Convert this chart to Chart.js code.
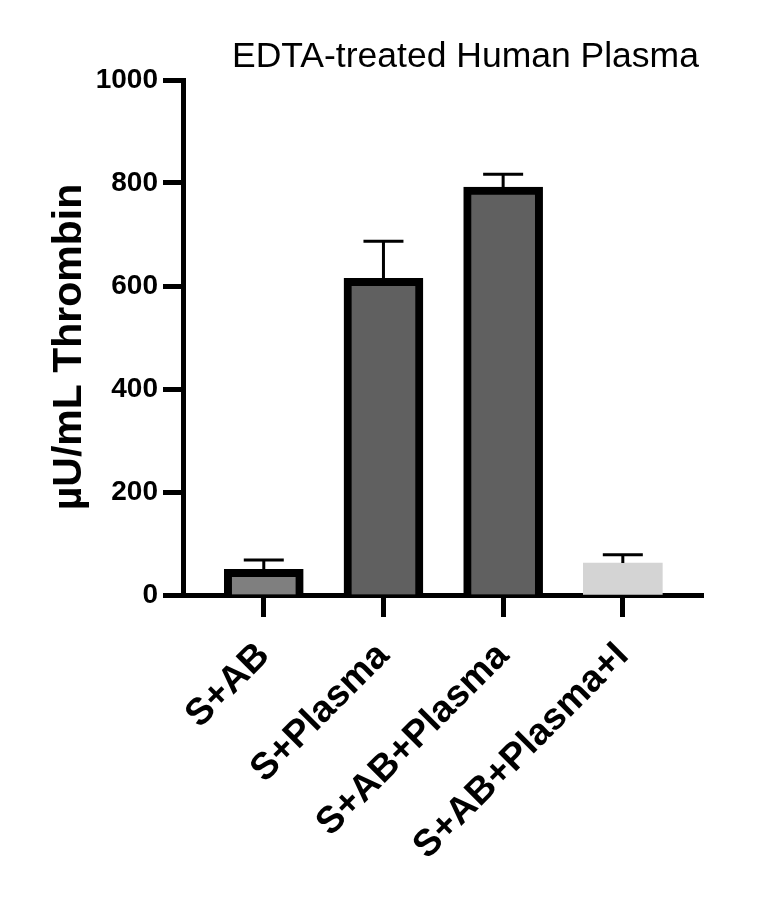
<!DOCTYPE html>
<html>
<head>
<meta charset="utf-8">
<script src="https://cdn.jsdelivr.net/npm/chart.js@4"></script>
<style>
  html, body { margin: 0; background: #fff; }
  #wrap { width: 768px; height: 899px; }
</style>
</head>
<body>
<div id="wrap"><canvas id="chart"></canvas></div>
<script>
// values
const categories = ["S+AB", "S+Plasma", "S+AB+Plasma", "S+AB+Plasma+I"];
const means = [50, 615, 792, 62];
const errors = [18, 72, 25, 16]; // upper error only
const yTicks = [0, 200, 400, 600, 800, 1000];
const fills = ["#7f7f7f", "#606060", "#606060", "#d4d4d4"];
const outlines = [8, 8, 8, 0];

const FONT = "'Liberation Sans', Arial, sans-serif";

// error bars: stem from the bar top up to mean+err, flat cap on top
const errorBars = {
  id: "errorBars",
  afterDatasetsDraw(chart) {
    const { ctx, scales: { x, y } } = chart;
    ctx.save();
    ctx.strokeStyle = "#000";
    ctx.lineWidth = 3;
    means.forEach((m, i) => {
      const px = x.getPixelForValue(i);
      const top = y.getPixelForValue(m + errors[i]);
      const base = y.getPixelForValue(m);
      ctx.beginPath();
      ctx.moveTo(px, base);
      ctx.lineTo(px, top);
      ctx.moveTo(px - 20, top);
      ctx.lineTo(px + 20, top);
      ctx.stroke();
    });
    ctx.restore();
  }
};

// title sits off-centre to the right, y title is a bit below the middle
const texts = {
  id: "texts",
  afterDraw(chart) {
    const { ctx } = chart;
    ctx.save();
    ctx.fillStyle = "#000";
    ctx.font = `35.5px ${FONT}`;
    ctx.textAlign = "left";
    ctx.textBaseline = "alphabetic";
    ctx.fillText("EDTA-treated Human Plasma", 232, 67);
    ctx.translate(81, 347);
    ctx.rotate(-Math.PI / 2);
    ctx.font = `bold 41px ${FONT}`;
    ctx.textAlign = "center";
    ctx.fillText("µU/mL Thrombin", 0, 0);
    ctx.restore();
  }
};

new Chart(document.getElementById("chart"), {
  type: "bar",
  data: {
    datasets: [{
      data: means.map((v, i) => ({ x: i, y: v })),
      backgroundColor: fills,
      borderColor: "#000",
      borderWidth: outlines,
      barThickness: 79,
    }],
  },
  options: {
    responsive: true,
    maintainAspectRatio: false,
    animation: false,
    layout: { padding: { top: 80, right: 65, left: 0, bottom: 0 } },
    plugins: { legend: { display: false }, tooltip: { enabled: false } },
    scales: {
      x: {
        type: "linear",
        min: -0.675,
        max: 3.67,
        offset: false,
        z: 1,
        afterFit(s) { s.height = 304; },
        border: { color: "#000", width: 5 },
        grid: { offset: false, drawOnChartArea: false, tickLength: 22, tickWidth: 5, tickColor: "#000" },
        ticks: {
          stepSize: 1,
          includeBounds: false,
          autoSkip: false,
          minRotation: 45,
          maxRotation: 45,
          padding: 17,
          color: "#000",
          font: { family: FONT, size: 37.5, weight: "bold" },
          callback: (v) => categories[v] ?? "",
        },
      },
      y: {
        min: 0,
        max: 1000,
        z: 1,
        afterFit(s) { s.width = 183; },
        afterBuildTicks(s) { s.ticks = yTicks.map((v) => ({ value: v })); },
        border: { color: "#000", width: 5 },
        grid: { drawOnChartArea: false, tickLength: 20, tickWidth: 5, tickColor: "#000" },
        ticks: {
          padding: 5,
          color: "#000",
          font: { family: FONT, size: 28, weight: "bold" },
          callback: (v) => String(v),
        },
      },
    },
  },
  plugins: [errorBars, texts],
});
</script>
</body>
</html>
